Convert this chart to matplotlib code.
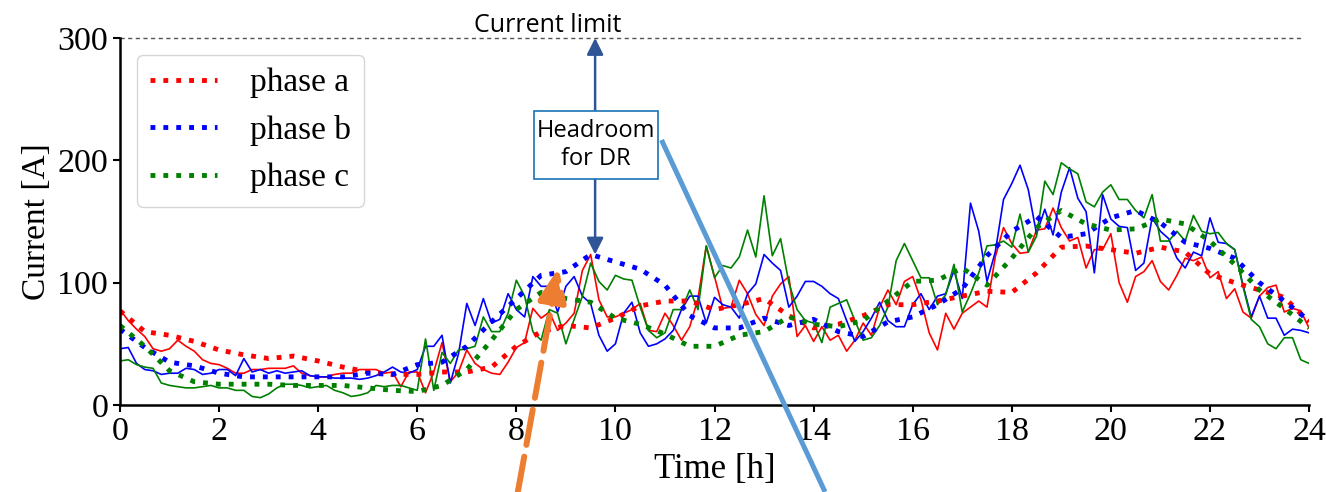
import numpy as np
import matplotlib
matplotlib.use('Agg')
import matplotlib.pyplot as plt
from matplotlib.patches import Rectangle

plt.rcParams['font.family'] = ['Liberation Serif', 'DejaVu Serif']

# measured phase currents, 10 min resolution (145 samples over 24 h)
ia = [78, 69, 62, 56, 46, 44, 46, 53, 48, 44, 37, 34, 33, 30, 26, 26, 29, 29, 30, 30,
      30, 32, 26, 24, 23, 23, 25, 26, 26, 29, 29, 29, 26, 27, 15, 27, 27,
      10, 27, 51, 19, 27, 45, 34, 29, 26, 25, 35, 47,
      51, 79, 71, 76, 61, 67, 75, 110, 123, 86, 72, 72, 75, 78, 83, 61, 60, 75, 65, 53,
      64, 87, 130, 105,
      79, 80, 102, 91, 74, 65, 89, 99, 105, 56, 65, 52, 64, 53, 57, 44, 53, 67, 57, 80,
      94, 82, 101, 105,
      86, 59, 45, 75, 62, 75, 80, 85, 80, 121, 145, 132, 124, 125, 143, 144, 161, 145, 134, 137,
      112, 127, 127, 140,
      100, 84, 105, 109, 118, 101, 94, 106, 120, 118, 121, 104, 109, 87, 95, 76, 71, 89, 96, 98,
      76, 79, 77, 63]
ib = [46, 47, 34, 29, 28, 25, 26, 26, 30, 29, 25, 26, 29, 29, 24, 38, 27, 29, 26, 28,
      26, 27, 28, 24, 23, 23, 22, 22, 22, 21, 22, 24, 27, 31, 27, 26, 29,
      48, 48, 57, 18, 42, 83, 65, 87, 67, 70, 91, 78,
      72, 105, 97, 97, 76, 97, 105, 89, 83, 57, 44, 50, 75, 84, 59, 48, 50, 54, 61, 78,
      89, 89, 67, 88,
      82, 80, 71, 91, 99, 123, 116, 110, 80, 89, 101, 101, 97, 91, 87, 69, 52, 60, 71, 84,
      69, 64, 64, 82,
      91, 78, 89, 91, 110, 87, 165, 142, 101, 125, 168, 181, 196, 176, 140, 160, 139, 174, 194, 169,
      158, 108, 172, 152,
      146, 145, 110, 116, 153, 142, 136, 120, 112, 125, 122, 153, 133, 132, 127, 98, 72, 89, 71, 71,
      57, 62, 61, 59]
ic = [36, 37, 33, 31, 30, 18, 16, 15, 14, 14, 15, 16, 14, 14, 12, 12, 7, 6, 9, 14,
      17, 17, 16, 14, 15, 16, 12, 10, 7, 8, 10, 16, 15, 16, 16, 14, 12,
      54, 12, 43, 34, 45, 46, 48, 72, 60, 60, 75, 102,
      89, 60, 53, 78, 75, 50, 70, 89, 116, 101, 94, 106, 103, 102, 80, 61, 55, 59, 78, 78,
      94, 78, 130, 104,
      114, 112, 121, 143, 121, 171, 122, 136, 100, 78, 69, 67, 51, 80, 83, 86, 69, 53, 55, 65,
      80, 118, 132, 118,
      104, 104, 82, 90, 115, 76, 91, 108, 130, 131, 134, 129, 156, 125, 138, 183, 172, 198, 193, 189,
      166, 162, 174, 180,
      168, 168, 159, 153, 172, 134, 134, 142, 134, 155, 142, 140, 141, 132, 127, 97, 70, 64, 50, 46,
      55, 55, 37, 34]

# smoothed profiles, 30 min resolution
ia_s = [77, 60, 57, 52, 45, 41, 38, 40, 36, 31, 27, 25, 25, 27, 27, 31, 48, 60, 65, 63,
        71, 81, 85, 85, 78, 82, 87, 73, 63, 66, 73, 82, 82, 85, 89, 93, 92, 108, 129, 130,
        127, 124, 129, 125, 107, 100, 94, 88, 68]
ib_s = [62, 47, 35, 32, 26, 23, 23, 23, 23, 23, 26, 25, 33, 35, 48, 68, 87, 106, 109, 123,
        117, 111, 98, 73, 63, 63, 71, 65, 70, 60, 56, 68, 72, 82, 95, 122, 142, 154, 137, 140,
        153, 159, 149, 133, 128, 120, 100, 85, 69]
ic_s = [65, 48, 28, 19, 17, 17, 17, 16, 16, 16, 14, 12, 11, 16, 29, 53, 78, 92, 87, 84,
        71, 66, 58, 48, 48, 57, 60, 72, 66, 64, 69, 85, 101, 102, 112, 98, 120, 145, 159, 148,
        143, 144, 152, 148, 134, 115, 94, 79, 63]

labels = ['phase a', 'phase b', 'phase c']
colors = ['red', 'blue', 'green']
current_limit = 300
dr_hour = 9.59
dr_peak = 123

t = np.arange(len(ia)) / 6.0
t_s = np.arange(len(ia_s)) * 0.5

fig = plt.figure(figsize=(13.26, 4.92), dpi=100)
ax = fig.add_axes([0.0905, 0.1768, 0.8967, 0.746])

for y, c in zip([ia, ib, ic], colors):
    ax.plot(t, y, color=c, lw=1.2)
for y, c, lab in zip([ia_s, ib_s, ic_s], colors, labels):
    ax.plot(t_s, y, color=c, ls=':', lw=3.5, label=lab)

ax.plot([0, 23.85], [current_limit, current_limit], color='#555555', lw=1,
        ls=(0, (3, 2.5)), clip_on=False)
ax.text(8.64, 305, 'Current limit', family='Open Sans', fontsize=18,
        ha='center', va='baseline')

# headroom arrow and box
ax.annotate('', xy=(dr_hour, current_limit), xytext=(dr_hour, dr_peak),
            arrowprops=dict(arrowstyle='<|-|>,head_length=1.0,head_width=0.5',
                            mutation_scale=10, color='#2F5597', lw=1.8,
                            shrinkA=0, shrinkB=0), annotation_clip=False)
ax.add_patch(Rectangle((8.36, 185), 2.5, 55, facecolor='white', edgecolor='#1A73B8',
                       lw=1.2, zorder=5))
ax.text(9.61, 212.5, 'Headroom\nfor DR', family='Open Sans', fontsize=17,
        ha='center', va='center', linespacing=1.2, zorder=6)

# pointer lines
ax.annotate('', xy=(8.85, 112), xytext=(8.03, -71),
            arrowprops=dict(arrowstyle='-|>,head_length=2.0,head_width=0.85',
                            mutation_scale=10, color='#ED7D31', lw=4.3,
                            linestyle=(0, (6, 2)), shrinkA=0, shrinkB=0),
            annotation_clip=False)
ax.plot([10.93, 14.23], [216.6, -71], color='#5B9BD5', lw=3.6, clip_on=False,
        solid_capstyle='butt', zorder=4)

ax.set_xlim(0, 24)
ax.set_ylim(0, 300)
ax.set_xticks(np.arange(0, 25, 2))
ax.set_yticks([0, 100, 200, 300])
ax.tick_params(labelsize=24.5, direction='out', length=5, width=1.5)
for s in ['top', 'right']:
    ax.spines[s].set_visible(False)
for s in ['left', 'bottom']:
    ax.spines[s].set_linewidth(1.8)
ax.set_xlabel('Time [h]', fontsize=25)
ax.set_ylabel('Current [A]', fontsize=24)
ax.legend(loc='upper left', fontsize=24, handletextpad=1.0)

fig.savefig('out.png', dpi=100)
